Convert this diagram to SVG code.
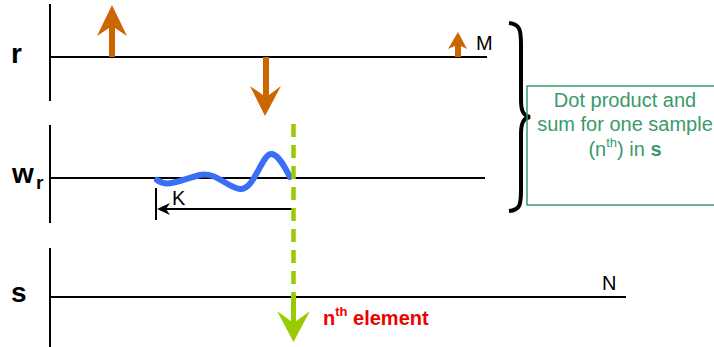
<svg xmlns="http://www.w3.org/2000/svg" width="714" height="347" viewBox="0 0 714 347">
<style>
.ax{stroke:#000;stroke-width:2;fill:none}
.lbl{font-family:"Liberation Sans",Arial,sans-serif;font-weight:bold;fill:#000}
.sm{font-family:"Liberation Sans",Arial,sans-serif;font-size:20px;fill:#000}
.or{fill:#cc6600}
.gt{font-family:"Liberation Sans",Arial,sans-serif;font-size:20px;fill:#3a9a6a}
</style>
<rect width="714" height="347" fill="#fff"/>
<g id="r-axis">
<line class="ax" x1="50" y1="4" x2="50" y2="101"/>
<line class="ax" x1="50" y1="57" x2="487" y2="57"/>
<text class="lbl" x="11" y="63" font-size="28">r</text>
<text class="sm" x="476" y="50">M</text>
</g>
<g id="r-samples">
<polygon class="or" points="109,57 115,57 115,28 127,36 112,5 97,36 109,28"/>
<polygon class="or" points="263,57 269,57 269,95 281,86 265,116 250,86 263,95"/>
<polygon class="or" points="455,57 461,57 461,46 467,49 458,32 448,49 455,46"/>
</g>
<g id="w-axis">
<line class="ax" x1="50" y1="125" x2="50" y2="223"/>
<line class="ax" x1="50" y1="178" x2="485" y2="178"/>
<text class="lbl" x="12" y="183" font-size="28">w</text>
<text class="lbl" x="36" y="189" font-size="19">r</text>
</g>
<g id="w-signal">
<path d="M157,180 C168,188 180,180 200,175 C215,171 228,188 240,189 C255,190 262,152 272,154 C280,156 286,170 290,177" fill="none" stroke="#3a6ef5" stroke-width="6" stroke-linecap="round"/>
</g>
<g id="K-span">
<line class="ax" x1="156" y1="188" x2="156" y2="220"/>
<line stroke="#000" stroke-width="2" x1="166" y1="209" x2="292" y2="209"/>
<polygon points="157,209 170,203 166,209 170,215" fill="#000"/>
<text class="sm" x="172" y="205">K</text>
</g>
<g id="s-axis">
<line class="ax" x1="50" y1="248" x2="50" y2="347"/>
<line class="ax" x1="50" y1="297" x2="626" y2="297"/>
<text class="lbl" x="11" y="302" font-size="28">s</text>
<text class="sm" x="602" y="290">N</text>
</g>
<g id="connectors">
<line x1="293.5" y1="124" x2="293.5" y2="298" stroke="#99cc00" stroke-width="4.5" stroke-dasharray="13,8"/>
<rect x="291" y="294" width="5" height="30" fill="#99cc00"/>
<polygon points="277,311 293.5,323 310,311 293.5,342" fill="#99cc00"/>
</g>
<g id="nth-label">
<text x="323" y="325" font-family="'Liberation Sans',Arial,sans-serif" font-weight="bold" font-size="20" fill="#ee0000">n<tspan font-size="13" dy="-9">th</tspan><tspan dy="9"> element</tspan></text>
</g>
<g id="brace">
<path d="M509,23 C520,24 521,30 521,45 L521,100 C521,112 524,116 530,117 C524,118 521,122 521,134 L521,190 C521,205 520,210 509,211" fill="none" stroke="#000" stroke-width="4"/>
</g>
<g id="summary-box">
<rect x="527" y="86" width="190" height="119" fill="none" stroke="#3a9a6a" stroke-width="1.5"/>
<text class="gt" x="625" y="107" text-anchor="middle">Dot product and</text>
<text class="gt" x="625" y="131" text-anchor="middle">sum for one sample</text>
<text class="gt" x="625" y="156" text-anchor="middle">(n<tspan font-size="13" dy="-9">th</tspan><tspan dy="9">) in </tspan><tspan font-weight="bold">s</tspan></text>
</g>
</svg>
